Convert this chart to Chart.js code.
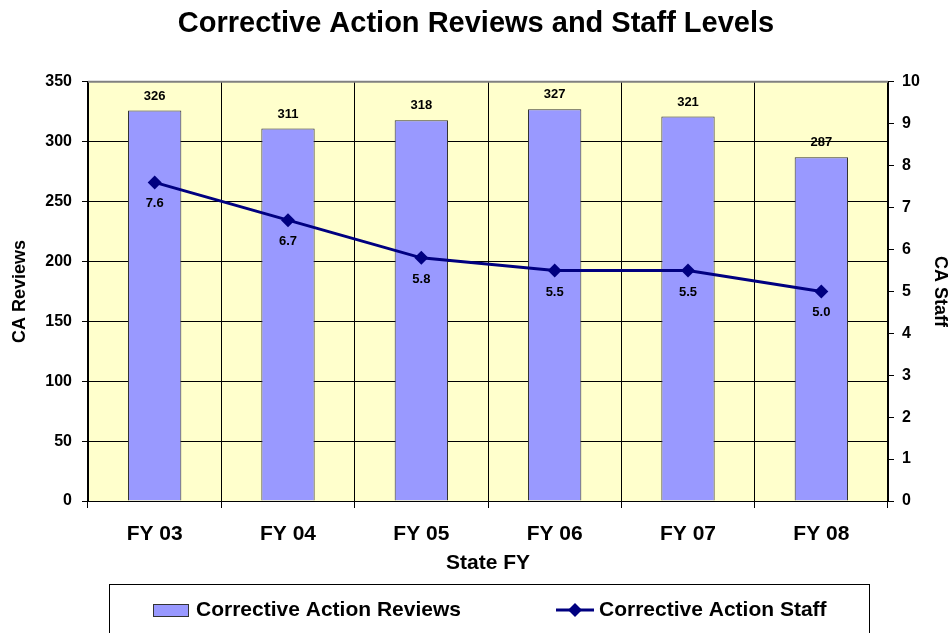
<!DOCTYPE html>
<html lang="en">
<head>
  <meta charset="UTF-8">
  <title>Corrective Action Reviews and Staff Levels</title>
  <script src="https://cdn.jsdelivr.net/npm/chart.js"></script>
  <style>
    html, body { margin: 0; padding: 0; background: #fff; }
    #wrap { width: 952px; height: 633px; }
  </style>
</head>
<body>
  <div id="wrap"><canvas id="myChart" width="952" height="633"></canvas></div>
  <script>
    // data
    const categories = ['FY 03', 'FY 04', 'FY 05', 'FY 06', 'FY 07', 'FY 08'];
    const reviews = [326, 311, 318, 327, 321, 287];
    const staff = [7.6, 6.7, 5.8, 5.5, 5.5, 5.0];
    const reviewsLabel = 'Corrective Action Reviews';
    const staffLabel = 'Corrective Action Staff';

    const FONT = 'Arial, "Liberation Sans", sans-serif';

    // plot background, border, value labels and boxed legend
    const extras = {
      id: 'extras',
      beforeDraw(chart) {
        const a = chart.chartArea, c = chart.ctx;
        c.save();
        c.fillStyle = '#FFFFCC';
        c.fillRect(a.left, a.top, a.right - a.left, a.bottom - a.top);
        c.restore();
      },
      afterDatasetsDraw(chart) {
        const a = chart.chartArea, c = chart.ctx;
        c.save();
        c.strokeStyle = '#808080';
        c.lineWidth = 2;
        c.beginPath();
        c.moveTo(a.left, a.top); c.lineTo(a.right, a.top);
        c.stroke();
        c.strokeStyle = '#000';
        c.lineWidth = 1;
        c.beginPath();
        c.moveTo(a.right + 0.5, a.top); c.lineTo(a.right + 0.5, a.bottom);
        c.stroke();

        c.fillStyle = '#000';
        c.font = 'bold 13px ' + FONT;
        c.textAlign = 'center';
        // dataset 1 = bars, dataset 0 = line
        chart.getDatasetMeta(1).data.forEach((el, i) => {
          c.textBaseline = 'bottom';
          c.fillText(reviews[i], el.x, el.y - 8);
        });
        chart.getDatasetMeta(0).data.forEach((el, i) => {
          c.textBaseline = 'top';
          c.fillText(staff[i].toFixed(1), el.x, el.y + 15);
        });

        // legend box
        const bx = 109, by = 584, bw = 760, bh = 52;
        c.strokeStyle = '#000';
        c.lineWidth = 1;
        c.strokeRect(bx + 0.5, by + 0.5, bw, bh);
        c.fillStyle = '#9999FF';
        c.fillRect(153, 604, 35, 12);
        c.strokeStyle = '#333';
        c.strokeRect(153.5, 604.5, 35, 12);
        c.font = 'bold 21px ' + FONT;
        c.fillStyle = '#000';
        c.textAlign = 'left';
        c.textBaseline = 'middle';
        c.fillText(reviewsLabel, 196, 610);
        c.strokeStyle = '#000080';
        c.lineWidth = 3;
        c.beginPath();
        c.moveTo(556, 610); c.lineTo(594, 610);
        c.stroke();
        c.fillStyle = '#000080';
        c.beginPath();
        c.moveTo(575, 603); c.lineTo(582, 610); c.lineTo(575, 617); c.lineTo(568, 610);
        c.closePath(); c.fill();
        c.fillStyle = '#000';
        c.fillText(staffLabel, 599, 610);
        c.restore();
      }
    };

    new Chart(document.getElementById('myChart'), {
      data: {
        labels: categories,
        datasets: [
          {
            type: 'line',
            label: staffLabel,
            data: staff,
            yAxisID: 'y1',
            borderColor: '#000080',
            backgroundColor: '#000080',
            borderWidth: 3,
            pointStyle: 'rectRot',
            pointRadius: 7,
            pointBorderWidth: 0,
            tension: 0,
            order: 0
          },
          {
            type: 'bar',
            label: reviewsLabel,
            data: reviews,
            yAxisID: 'y',
            backgroundColor: '#9999FF',
            borderColor: '#333333',
            borderWidth: 1,
            categoryPercentage: 1,
            barPercentage: 0.4,
            order: 1
          }
        ]
      },
      options: {
        responsive: false,
        animation: false,
        layout: { padding: { top: 0, bottom: 48, left: 0, right: 0 } },
        plugins: {
          legend: { display: false },
          tooltip: { enabled: false },
          title: {
            display: true,
            text: 'Corrective Action Reviews and Staff Levels',
            color: '#000',
            font: { family: FONT, size: 29, weight: 'bold' },
            padding: { top: 7, bottom: 40 }
          }
        },
        scales: {
          x: {
            offset: true,
            grid: { color: '#000', offset: true, tickLength: 7, drawOnChartArea: true },
            border: { color: '#000' },
            ticks: { color: '#000', padding: 14, font: { family: FONT, size: 21, weight: 'bold' } },
            title: {
              display: true, text: 'State FY', color: '#000',
              font: { family: FONT, size: 21, weight: 'bold' }, padding: 9
            },
            afterFit(s) { s.height = 84; }
          },
          y: {
            position: 'left',
            min: 0, max: 350,
            grid: { color: '#000', tickLength: 6 },
            border: { color: '#000' },
            ticks: { stepSize: 50, color: '#000', padding: 10, font: { family: FONT, size: 16, weight: 'bold' } },
            title: {
              display: true, text: 'CA Reviews', color: '#000',
              font: { family: FONT, size: 18, weight: 'bold' }, padding: 9
            },
            afterFit(s) { s.width = 88; }
          },
          y1: {
            position: 'right',
            min: 0, max: 10,
            grid: { drawOnChartArea: false, color: '#000', tickLength: 6 },
            border: { color: '#000' },
            ticks: { stepSize: 1, color: '#000', padding: 8, font: { family: FONT, size: 16, weight: 'bold' } },
            title: {
              display: true, text: 'CA Staff', color: '#000',
              font: { family: FONT, size: 18, weight: 'bold' }, padding: 1
            },
            afterFit(s) { s.width = 64; }
          }
        }
      },
      plugins: [extras]
    });
  </script>
</body>
</html>
